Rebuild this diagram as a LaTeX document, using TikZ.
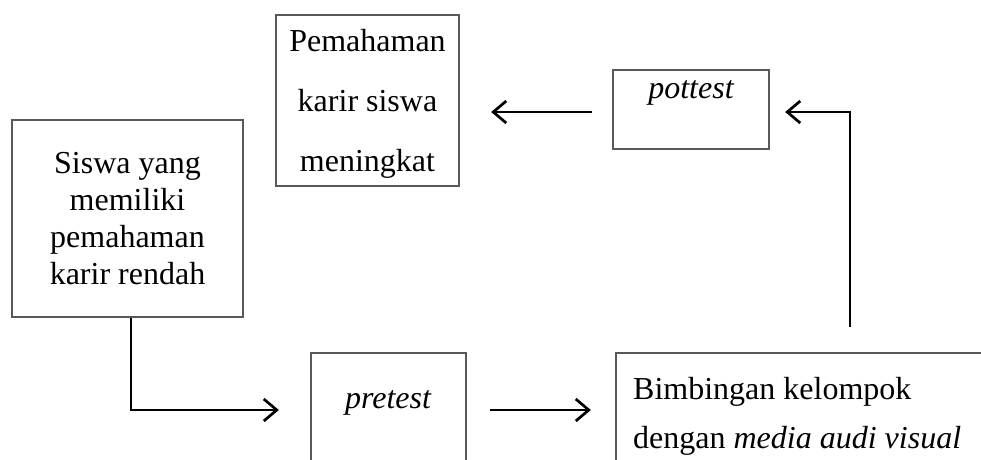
\documentclass[tikz,border=0pt]{standalone}
\usepackage{fontspec}
\setmainfont{Liberation Serif}
\usetikzlibrary{arrows.meta}
\begin{document}
\begin{tikzpicture}[x=1pt,y=-1pt,
  frame/.style={draw=black!65,line width=2.3pt,inner sep=0pt},
  txt/.style={inner sep=0pt,align=center,font=\fontsize{32}{37}\selectfont},
  flow/.style={line width=2.7pt,-{Straight Barb[length=13pt,width=22pt,line width=2.7pt]}}]
\useasboundingbox (0,0) rectangle (981,459);
\clip (0,0) rectangle (981,459);

% boxes
\node[frame,minimum width=231pt,minimum height=197pt] (siswa) at (127.5,218.5) {};
\node[frame,minimum width=183pt,minimum height=171pt] (paham) at (367.5,100.5) {};
\node[frame,minimum width=156pt,minimum height=79pt] (post) at (691,109.5) {};
\node[frame,minimum width=155pt,minimum height=114pt] (pre) at (388.5,410) {};
\node[frame,minimum width=400pt,minimum height=114pt] (bimb) at (816,410) {};

% texts
\node[txt] (siswatxt) at (siswa.center) {Siswa yang\\memiliki\\pemahaman\\karir rendah};
\node[txt,font=\fontsize{32}{60}\selectfont] (pahamtxt) at (367.5,104) {Pemahaman\\karir siswa\\meningkat};
\node[txt] (posttxt) at (691,93) {\itshape pottest};
\node[txt] (pretxt) at (388,403) {\itshape pretest};
\node[txt,align=left,anchor=west,font=\fontsize{32}{49}\selectfont] (bimbtxt) at (633,416)
  {Bimbingan kelompok\\dengan \textit{media audi visual}};

% connectors
\draw[flow,shorten >=31pt] ([xshift=3.5pt]siswa.south) |- (pre.west);
\draw[flow,shorten <=23pt,shorten >=24pt] (pre.east) -- (bimb.west);
\draw[flow,shorten <=25pt,shorten >=15pt] ([xshift=34pt]bimb.north) |- ([yshift=-2.5pt]post.east);
\draw[flow,shorten <=20pt,shorten >=31pt] ([yshift=-2.5pt]post.west) -- ([yshift=-2.5pt]post.west -| paham.east);
\end{tikzpicture}
\end{document}
